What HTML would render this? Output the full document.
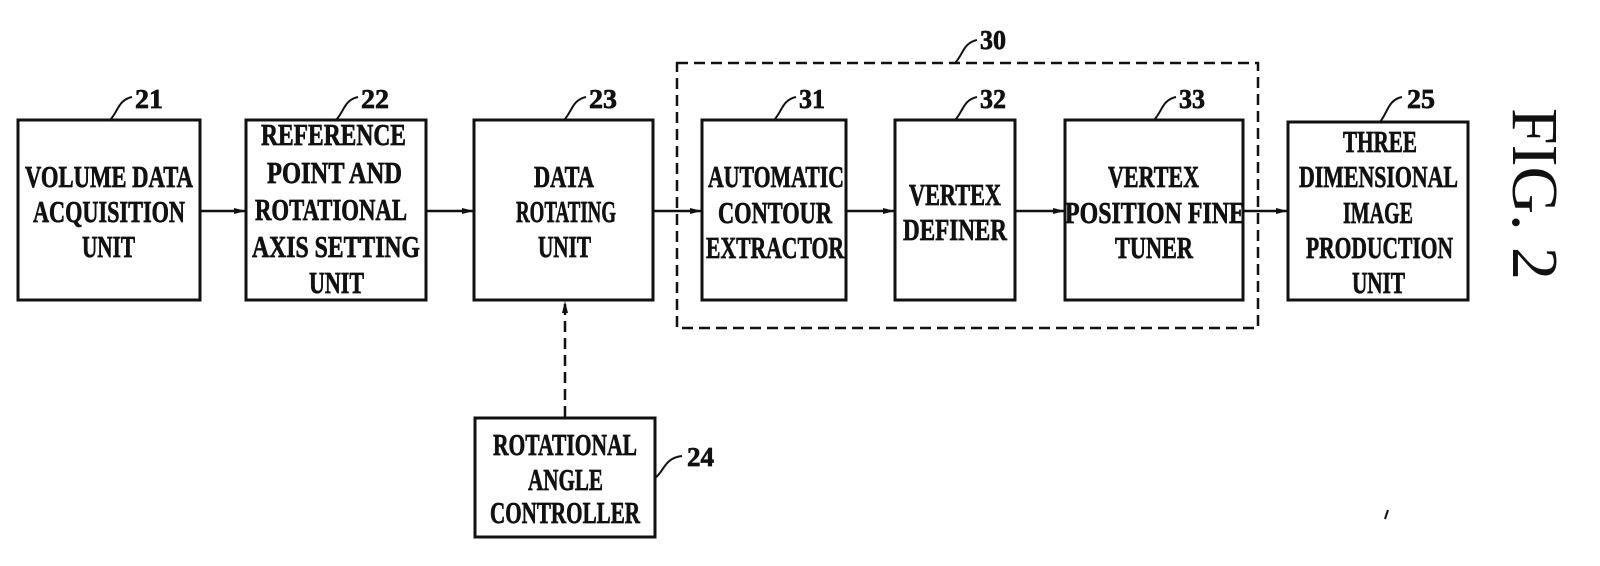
<!DOCTYPE html>
<html><head><meta charset="utf-8"><style>
html,body{margin:0;padding:0;background:#fff;}
svg{display:block;}
.t{font-family:"Liberation Serif",serif;font-weight:bold;font-size:31px;fill:#111;stroke:#111;stroke-width:0.7;}
.n{font-family:"Liberation Serif",serif;font-weight:bold;font-size:27px;fill:#111;stroke:#111;stroke-width:0.7;}
</style></head><body>
<svg width="1600" height="566" viewBox="0 0 1600 566" xmlns="http://www.w3.org/2000/svg">
<defs>
<marker id="a" markerWidth="12" markerHeight="8" refX="11" refY="4" orient="auto" markerUnits="userSpaceOnUse">
<path d="M0,1 L12,4 L0,7 Z" fill="#111"/></marker>
</defs>
<g fill="none" stroke="#111" stroke-width="3">
<rect x="18" y="120" width="182" height="180"/>
<rect x="246" y="120" width="180" height="180"/>
<rect x="474" y="120" width="179" height="180"/>
<rect x="702" y="120" width="144" height="180"/>
<rect x="895" y="120" width="120" height="180"/>
<rect x="1065" y="120" width="178" height="180"/>
<rect x="1288" y="122" width="180" height="178"/>
<rect x="475" y="418" width="180" height="119"/>
<rect x="677" y="63" width="581" height="265" stroke-width="2.5" stroke-dasharray="11,6"/>
</g>
<g stroke="#111" stroke-width="2.5" fill="none">
<line x1="200" y1="211" x2="245" y2="211" marker-end="url(#a)"/>
<line x1="426" y1="211" x2="473" y2="211" marker-end="url(#a)"/>
<line x1="653" y1="211" x2="701" y2="211" marker-end="url(#a)"/>
<line x1="846" y1="211" x2="894" y2="211" marker-end="url(#a)"/>
<line x1="1015" y1="211" x2="1064" y2="211" marker-end="url(#a)"/>
<line x1="1243" y1="211" x2="1287" y2="211" marker-end="url(#a)"/>
<line x1="565" y1="417" x2="565" y2="302" stroke-dasharray="11,6" marker-end="url(#a)"/>
</g>
<g stroke="#111" stroke-width="2" fill="none">
<path d="M110,120 C118,112 118,100 132,97"/>
<path d="M336,120 C344,112 344,100 358,97"/>
<path d="M564,120 C572,112 572,100 586,97"/>
<path d="M774,120 C782,112 782,100 796,97"/>
<path d="M955,120 C963,112 963,100 977,97"/>
<path d="M1154,120 C1162,112 1162,100 1176,97"/>
<path d="M1380,122 C1388,112 1388,100 1402,97"/>
<path d="M955,63 C963,55 963,43 977,40"/>
<path d="M655,478 C664,472 664,458 682,456"/>
</g>
<g class="n">
<text x="135" y="108" textLength="28" lengthAdjust="spacingAndGlyphs">21</text>
<text x="361" y="108" textLength="28" lengthAdjust="spacingAndGlyphs">22</text>
<text x="589" y="108" textLength="28" lengthAdjust="spacingAndGlyphs">23</text>
<text x="799" y="108" textLength="26" lengthAdjust="spacingAndGlyphs">31</text>
<text x="980" y="108" textLength="26" lengthAdjust="spacingAndGlyphs">32</text>
<text x="1179" y="108" textLength="26" lengthAdjust="spacingAndGlyphs">33</text>
<text x="1407" y="108" textLength="28" lengthAdjust="spacingAndGlyphs">25</text>
<text x="980" y="49" textLength="26" lengthAdjust="spacingAndGlyphs">30</text>
<text x="687" y="466" textLength="27" lengthAdjust="spacingAndGlyphs">24</text>
</g>
<g class="t" text-anchor="start">
<text x="25" y="187" textLength="168" lengthAdjust="spacingAndGlyphs">VOLUME DATA</text>
<text x="33" y="222" textLength="152" lengthAdjust="spacingAndGlyphs">ACQUISITION</text>
<text x="82" y="257" textLength="53" lengthAdjust="spacingAndGlyphs">UNIT</text>

<text x="261" y="145" textLength="145" lengthAdjust="spacingAndGlyphs">REFERENCE</text>
<text x="267" y="183" textLength="135" lengthAdjust="spacingAndGlyphs">POINT AND</text>
<text x="255" y="220" textLength="152" lengthAdjust="spacingAndGlyphs">ROTATIONAL</text>
<text x="252" y="257" textLength="168" lengthAdjust="spacingAndGlyphs">AXIS SETTING</text>
<text x="309" y="293" textLength="55" lengthAdjust="spacingAndGlyphs">UNIT</text>

<text x="534" y="187" textLength="60" lengthAdjust="spacingAndGlyphs">DATA</text>
<text x="516" y="222" textLength="100" lengthAdjust="spacingAndGlyphs">ROTATING</text>
<text x="538" y="257" textLength="53" lengthAdjust="spacingAndGlyphs">UNIT</text>

<text x="708" y="187" textLength="136" lengthAdjust="spacingAndGlyphs">AUTOMATIC</text>
<text x="718" y="223" textLength="114" lengthAdjust="spacingAndGlyphs">CONTOUR</text>
<text x="706" y="258" textLength="138" lengthAdjust="spacingAndGlyphs">EXTRACTOR</text>

<text x="909" y="205" textLength="92" lengthAdjust="spacingAndGlyphs">VERTEX</text>
<text x="903" y="240" textLength="104" lengthAdjust="spacingAndGlyphs">DEFINER</text>

<text x="1108" y="187" textLength="91" lengthAdjust="spacingAndGlyphs">VERTEX</text>
<text x="1065" y="223" textLength="180" lengthAdjust="spacingAndGlyphs">POSITION FINE</text>
<text x="1115" y="258" textLength="78" lengthAdjust="spacingAndGlyphs">TUNER</text>

<text x="1343" y="152" textLength="74" lengthAdjust="spacingAndGlyphs">THREE</text>
<text x="1299" y="187" textLength="159" lengthAdjust="spacingAndGlyphs">DIMENSIONAL</text>
<text x="1343" y="223" textLength="70" lengthAdjust="spacingAndGlyphs">IMAGE</text>
<text x="1306" y="258" textLength="147" lengthAdjust="spacingAndGlyphs">PRODUCTION</text>
<text x="1352" y="293" textLength="53" lengthAdjust="spacingAndGlyphs">UNIT</text>

<text x="493" y="455" textLength="144" lengthAdjust="spacingAndGlyphs">ROTATIONAL</text>
<text x="528" y="490" textLength="75" lengthAdjust="spacingAndGlyphs">ANGLE</text>
<text x="490" y="523" textLength="150" lengthAdjust="spacingAndGlyphs">CONTROLLER</text>
</g>
<text x="1513" y="108" transform="rotate(90 1513 108)" textLength="172" lengthAdjust="spacingAndGlyphs" style="font-family:'Liberation Serif',serif;font-size:66px;fill:#111;">FIG. 2</text>
<path d="M1388,510 L1385,519" stroke="#111" stroke-width="2"/>
</svg>
</body></html>
